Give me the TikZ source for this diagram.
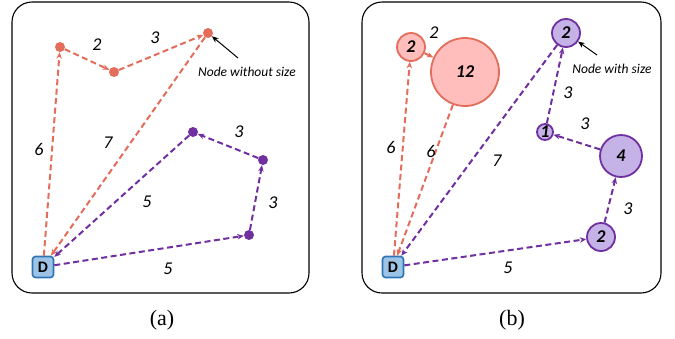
\documentclass[tikz,border=0pt]{standalone}
\usepackage{fontspec}
\setmainfont{Liberation Serif}
\newfontfamily\cfont{Carlito}
\usetikzlibrary{arrows.meta}

\definecolor{redline}{HTML}{E46C5A}
\definecolor{redfill}{HTML}{FFBDBB}
\definecolor{purpline}{HTML}{7030A0}
\definecolor{purpfill}{HTML}{C5B3E8}
\definecolor{dline}{HTML}{2E75B6}
\definecolor{dfill}{HTML}{9DC3E6}

\begin{document}
\begin{tikzpicture}[x=1pt, y=-1pt, >={Stealth[length=6.5pt,width=5.5pt]},
    lbl/.style={font=\cfont\itshape\fontsize{18}{20}\selectfont},
    note/.style={font=\cfont\itshape\fontsize{13.5}{15}\selectfont},
    depot/.style={draw=dline, fill=dfill, line width=1.6pt, rounded corners=3pt,
        minimum size=21pt, inner sep=0pt, font=\cfont\bfseries\fontsize{16}{17}\selectfont},
    dot/.style={circle, fill=#1, minimum size=10pt, inner sep=0pt},
    city/.style={circle, draw=#1line, fill=#1fill, line width=1.8pt, inner sep=0pt,
        font=\cfont\bfseries\itshape\fontsize{18}{20}\selectfont},
    redge/.style={->, draw=redline, line width=2pt, dash pattern=on 6pt off 3.5pt},
    pedge/.style={->, draw=purpline, line width=2pt, dash pattern=on 6pt off 3.5pt}]
    \useasboundingbox (0,0) rectangle (675,338);

    % panel frames
    \draw[line width=1.1pt, rounded corners=20pt] (12,2) rectangle (309,293);
    \draw[line width=1.1pt, rounded corners=20pt] (362,2) rectangle (661,293);
    \node[font=\fontsize{22}{24}\selectfont] (capa) at (162,320) {(a)};
    \node[font=\fontsize{22}{24}\selectfont] (capb) at (512,320) {(b)};

    % (a) nodes without size
    \node[depot] (da) at (43,267) {D};
    \node[dot=redline] (a1) at (60,47) {};
    \node[dot=redline] (a2) at (114,72) {};
    \node[dot=redline] (a3) at (208,33) {};
    \node[dot=purpline] (p1) at (193,132) {};
    \node[dot=purpline] (p2) at (263,160) {};
    \node[dot=purpline] (p3) at (249,235) {};

    \draw[redge] (da) -- (a1);
    \draw[redge] (a1) -- (a2);
    \draw[redge] (a2) -- (a3);
    \draw[redge] (a3) -- (da);
    \draw[pedge] (da) -- (p3);
    \draw[pedge] (p3) -- (p2);
    \draw[pedge] (p2) -- (p1);
    \draw[pedge] (p1) -- (da);

    \node[lbl] (la1) at (39,149) {6};
    \node[lbl] (la2) at (97,45) {2};
    \node[lbl] (la3) at (155,38) {3};
    \node[lbl] (la4) at (108,143) {7};
    \node[lbl] (lp1) at (168,269) {5};
    \node[lbl] (lp2) at (273,203) {3};
    \node[lbl] (lp3) at (239,132) {3};
    \node[lbl] (lp4) at (147,202) {5};

    \node[note] (na) at (247,72) {Node without size};
    \coordinate (ta) at (238,58);
    \draw[->, line width=1pt] (ta) -- (a3);

    % (b) nodes with size
    \node[depot] (db) at (393,267) {D};
    \node[city=red, minimum size=28pt] (r1) at (411,47) {2};
    \node[city=red, minimum size=68pt] (r2) at (465,72) {12};
    \node[city=purp, minimum size=28pt] (q1) at (566,33) {2};
    \node[city=purp, minimum size=16pt] (q2) at (545,132) {1};
    \node[city=purp, minimum size=42pt] (q3) at (621,156) {4};
    \node[city=purp, minimum size=28pt] (q4) at (601,237) {2};

    \draw[redge] (db) -- (r1);
    \draw[redge] (r1) -- (r2);
    \draw[redge] (r2) -- (db);
    \draw[pedge] (db) -- (q4);
    \draw[pedge] (q4) -- (q3);
    \draw[pedge] (q3) -- (q2);
    \draw[pedge] (q2) -- (q1);
    \draw[pedge] (q1) -- (db);

    \node[lbl] (lr1) at (391,147) {6};
    \node[lbl] (lr2) at (434,33) {2};
    \node[lbl] (lr3) at (431,151) {6};
    \node[lbl] (lq1) at (508,268) {5};
    \node[lbl] (lq2) at (628,209) {3};
    \node[lbl] (lq3) at (585,124) {3};
    \node[lbl] (lq4) at (568,93) {3};
    \node[lbl] (lq5) at (497,161) {7};

    \node[note] (nb) at (612,69) {Node with size};
    \coordinate (tb) at (597,55);
    \draw[->, line width=1pt] (tb) -- (q1);
\end{tikzpicture}
\end{document}
